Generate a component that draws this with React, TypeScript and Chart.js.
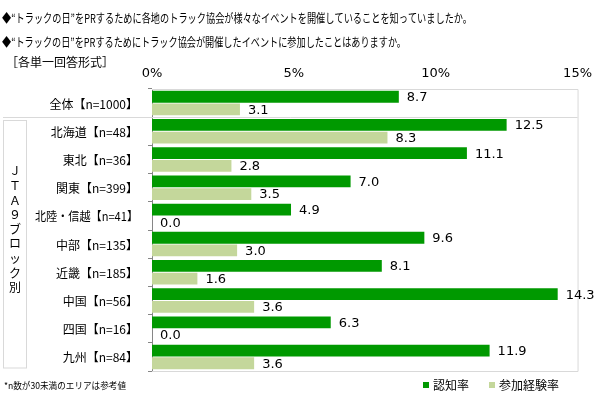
import React, { useEffect, useRef } from "react";
import { Chart, registerables } from "chart.js";

Chart.register(...registerables);

const categories = [
  "全体【n=1000】",
  "北海道【n=48】",
  "東北【n=36】",
  "関東【n=399】",
  "北陸・信越【n=41】",
  "中部【n=135】",
  "近畿【n=185】",
  "中国【n=56】",
  "四国【n=16】",
  "九州【n=84】",
];
const awareness = [8.7, 12.5, 11.1, 7.0, 4.9, 9.6, 8.1, 14.3, 6.3, 11.9];
const participation = [3.1, 8.3, 2.8, 3.5, 0.0, 3.0, 1.6, 3.6, 0.0, 3.6];
const seriesNames = ["認知率", "参加経験率"];
const xTicks = [0, 5, 10, 15];
const titleLines = [
  "◆“トラックの日”をPRするために各地のトラック協会が様々なイベントを開催していることを知っていましたか。",
  "◆“トラックの日”をPRするためにトラック協会が開催したイベントに参加したことはありますか。",
];
const subTitle = "［各単一回答形式］";
const groupLabel = "ＪＴＡ９ブロック別";
const footnote = "*n数が30未満のエリアは参考値";

const GREEN = "#009900";
const LIGHT = "#c4d79b";
const CJK = "'Noto Sans CJK JP', sans-serif";
const NUM = "'DejaVu Sans', 'Noto Sans CJK JP', sans-serif";

const decorPlugin = {
  id: "decor",
  afterDraw(chart: any) {
    const ctx = chart.ctx;
    const ca = chart.chartArea;
    const yScale = chart.scales.y;
    ctx.save();

    // plot frame
    ctx.strokeStyle = "#d9d9d9";
    ctx.lineWidth = 1;
    ctx.beginPath();
    ctx.moveTo(ca.left, ca.top + 0.5);
    ctx.lineTo(ca.right + 0.5, ca.top + 0.5);
    ctx.lineTo(ca.right + 0.5, ca.bottom + 0.5);
    ctx.lineTo(ca.left, ca.bottom + 0.5);
    ctx.stroke();

    // separator after first category
    const sepY = Math.round((yScale.getPixelForValue(0) + yScale.getPixelForValue(1)) / 2) + 0.5;
    ctx.beginPath();
    ctx.moveTo(3, sepY);
    ctx.lineTo(ca.right, sepY);
    ctx.stroke();

    // group box
    const boxTop = sepY + 3;
    const boxBottom = ca.bottom - 3;
    ctx.strokeRect(3.5, boxTop, 23, boxBottom - boxTop);
    ctx.fillStyle = "#000";
    ctx.font = `12px ${CJK}`;
    ctx.textAlign = "center";
    ctx.textBaseline = "middle";
    const chars = Array.from(groupLabel);
    const step = 14.6;
    const midY = (boxTop + boxBottom) / 2 - 15;
    chars.forEach((c, i) => {
      ctx.fillText(c, 15, midY + (i - (chars.length - 1) / 2) * step);
    });

    // y labels
    ctx.font = `12px ${CJK}`;
    ctx.textAlign = "right";
    categories.forEach((c, i) => {
      ctx.fillText(c, 138, yScale.getPixelForValue(i) + 1, 103);
    });

    // data labels
    ctx.font = `13px ${NUM}`;
    ctx.textAlign = "left";
    chart.data.datasets.forEach((ds: any, di: number) => {
      const meta = chart.getDatasetMeta(di);
      meta.data.forEach((el: any, i: number) => {
        ctx.fillText(Number(ds.data[i]).toFixed(1), el.x + 8, el.y + 1);
      });
    });

    // titles
    ctx.font = `12px ${CJK}`;
    ctx.textAlign = "left";
    ctx.fillText(titleLines[0], 2, 18, 470);
    ctx.fillText(titleLines[1], 2, 42, 404);
    ctx.fillText(subTitle, 6, 62);

    // footnote
    ctx.font = `9px ${CJK}`;
    ctx.fillText(footnote, 4, 386, 122);

    // legend
    ctx.font = `12px ${CJK}`;
    ctx.fillStyle = GREEN;
    ctx.fillRect(423, 382, 6, 6);
    ctx.fillStyle = "#000";
    ctx.fillText(seriesNames[0], 433, 385);
    ctx.fillStyle = LIGHT;
    ctx.fillRect(489, 382, 6, 6);
    ctx.fillStyle = "#000";
    ctx.fillText(seriesNames[1], 499, 385);

    ctx.restore();
  },
};

export default function App() {
  const ref = useRef<HTMLCanvasElement | null>(null);
  useEffect(() => {
    if (!ref.current) return;
    const chart = new Chart(ref.current, {
      type: "bar",
      data: {
        labels: categories,
        datasets: [
          {
            label: seriesNames[0],
            data: awareness,
            backgroundColor: GREEN,
            barPercentage: 0.93,
            categoryPercentage: 0.9,
          },
          {
            label: seriesNames[1],
            data: participation,
            backgroundColor: LIGHT,
            barPercentage: 0.93,
            categoryPercentage: 0.9,
          },
        ],
      },
      options: {
        indexAxis: "y",
        responsive: false,
        animation: false,
        devicePixelRatio: 1,
        layout: { padding: { left: 0, right: 22, top: 0, bottom: 28 } },
        plugins: {
          legend: { display: false },
          tooltip: { enabled: false },
        },
        scales: {
          x: {
            position: "top",
            min: 0,
            max: 15,
            afterBuildTicks: (s: any) => {
              s.ticks = xTicks.map((v) => ({ value: v }));
            },
            ticks: {
              callback: (v: any) => v + "%",
              font: { size: 13, family: NUM },
              color: "#000",
              padding: 8,
              maxRotation: 0,
            },
            grid: { display: false, drawTicks: false },
            border: { display: false },
            afterFit: (s: any) => {
              s.height = 89;
            },
          },
          y: {
            ticks: { display: false },
            grid: {
              drawOnChartArea: false,
              tickLength: 4,
              color: "#868686",
              offset: true,
            },
            border: { display: true, color: "#868686" },
            afterFit: (s: any) => {
              s.width = 152;
            },
          },
        },
      } as any,
      plugins: [decorPlugin],
    });
    return () => chart.destroy();
  }, []);
  return (
    <div style={{ position: "fixed", left: 0, top: 0, width: 600, height: 399, background: "#fff" }}>
      <canvas ref={ref} width={600} height={399} />
    </div>
  );
}
